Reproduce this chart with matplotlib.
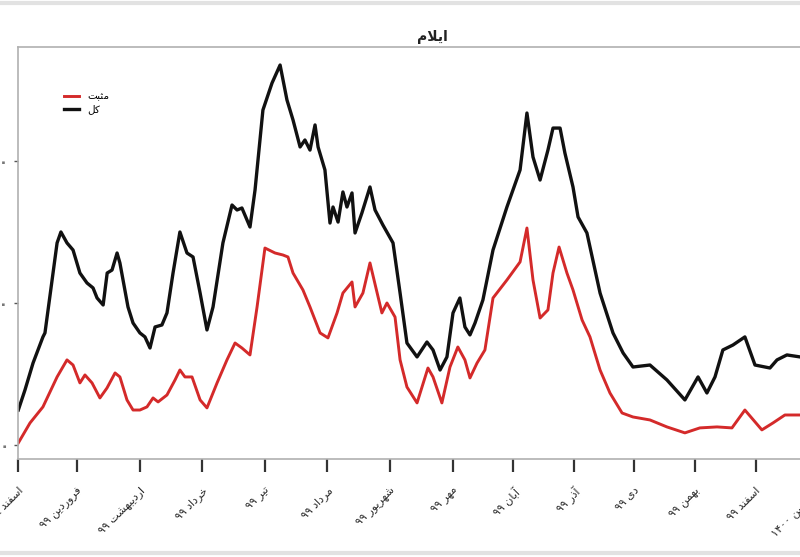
import matplotlib
matplotlib.use("Agg")
import matplotlib.pyplot as plt
from matplotlib.lines import Line2D

# ---------------- data (days from start of Esfand 98) ----------------
total_days = [0, 3.3, 7.3, 12.2, 13.2, 19.2, 21.1, 24.1, 27.1, 30.5, 34.0, 37.0, 39.0, 42.0,
              44.0, 46.4, 48.9, 50.3, 54.3, 56.8, 60.2, 62.7, 65.2, 67.7, 71.1, 73.6, 76.6,
              80.0, 83.5, 86.5, 90.0, 93.4, 96.4, 101.3, 105.8, 108.3, 110.7, 114.7, 117.2,
              121.1, 125.6, 129.6, 133.0, 136.0, 139.5, 141.9, 144.4, 146.9, 148.4, 151.8,
              154.3, 155.8, 158.3, 160.7, 162.7, 165.2, 166.7, 170.1, 174.1, 176.6, 180.5,
              185.5, 189.0, 192.4, 197.4, 202.3, 205.3, 208.8, 212.2, 215.2, 218.6, 221.1,
              223.6, 226.1, 230.0, 235.0, 241.9, 248.4, 251.8, 254.8, 258.3, 262.2, 264.7,
              268.2, 270.6, 274.6, 277.1, 281.5, 288.0, 294.4, 299.4, 304.3, 312.7, 321.1,
              330.0, 336.5, 340.9, 344.9, 348.8, 353.8, 359.7, 364.7, 372.1, 375.6, 380.5, 387.0]
total_vals = [24.6, 38.7, 57.7, 76.1, 78.9, 142.3, 150.0, 142.3, 137.3, 121.1, 114.1, 110.6,
              103.5, 98.6, 121.1, 123.2, 135.2, 128.2, 97.2, 85.9, 78.9, 76.1, 68.3, 83.1,
              84.5, 93.0, 121.1, 150.0, 135.2, 132.4, 107.0, 81.0, 97.2, 142.3, 169.0, 165.5,
              166.9, 153.5, 179.6, 235.9, 254.9, 267.6, 243.0, 228.9, 209.9, 214.8, 207.7,
              225.4, 209.9, 193.7, 156.3, 167.6, 157.0, 178.2, 167.6, 177.5, 149.3, 163.4,
              181.7, 165.5, 154.9, 142.3, 107.0, 71.8, 62.0, 72.5, 66.9, 52.8, 62.0, 93.0,
              103.5, 83.1, 77.5, 85.9, 102.1, 137.3, 167.6, 193.7, 233.8, 202.8, 186.6,
              207.7, 223.2, 223.2, 205.6, 181.7, 160.6, 149.3, 107.0, 78.9, 64.8, 54.9, 56.3,
              45.8, 31.7, 47.9, 36.6, 47.9, 66.9, 70.4, 76.1, 56.3, 54.2, 59.9, 63.4, 62.0]

pos_days = [0, 5.8, 12.2, 19.2, 24.1, 27.1, 30.5, 33.0, 36.5, 40.4, 43.9, 47.9, 50.3, 53.8,
            56.8, 60.2, 63.7, 66.7, 69.2, 73.6, 77.6, 80.0, 82.5, 86.0, 90.0, 93.4, 98.4,
            103.3, 107.3, 110.7, 114.7, 118.2, 122.1, 127.1, 131.0, 133.5, 136.0, 140.9,
            144.4, 149.4, 153.3, 157.8, 160.7, 165.2, 166.7, 170.6, 174.1, 180.0, 182.5,
            186.5, 189.0, 192.4, 197.4, 202.8, 205.3, 209.7, 213.7, 217.6, 221.1, 223.6,
            227.1, 231.0, 235.0, 241.9, 248.4, 251.8, 254.8, 258.3, 262.2, 264.7, 267.7,
            271.6, 274.6, 279.1, 283.0, 288.0, 292.9, 298.9, 304.3, 312.7, 321.1, 330.0,
            337.4, 345.9, 353.3, 359.7, 368.1, 373.6, 379.5, 387.0]
pos_vals = [1.4, 15.5, 26.8, 47.9, 59.9, 56.3, 43.7, 49.3, 43.7, 33.1, 40.1, 50.7, 47.9, 31.7,
            24.6, 24.6, 26.8, 33.1, 30.3, 35.2, 45.8, 52.8, 47.9, 47.9, 31.7, 26.1, 43.7,
            59.9, 71.8, 68.3, 63.4, 97.2, 138.7, 135.2, 133.8, 132.4, 121.1, 109.2, 97.2,
            78.9, 75.4, 93.0, 107.0, 114.8, 97.2, 107.0, 128.2, 93.0, 100.0, 90.1, 59.9,
            40.8, 29.6, 54.2, 47.9, 29.6, 54.9, 69.0, 59.9, 47.2, 57.7, 66.9, 103.5, 116.2,
            128.9, 152.8, 116.2, 89.4, 95.1, 121.1, 139.4, 121.1, 109.2, 88.0, 76.1, 52.8,
            36.6, 22.5, 19.7, 17.6, 12.7, 8.5, 12.0, 12.7, 12.0, 24.6, 10.6, 15.5, 21.1, 21.1]

tick_days = [0, 29, 60, 91, 122, 153, 184, 215, 245, 275, 305, 335, 365, 395]
tick_labels = ["اسفند ۹۸", "فروردین ۹۹", "اردیبهشت ۹۹", "خرداد ۹۹", "تیر ۹۹", "مرداد ۹۹",
               "شهریور ۹۹", "مهر ۹۹", "آبان ۹۹", "آذر ۹۹", "دی ۹۹", "بهمن ۹۹",
               "اسفند ۹۹", "فروردین ۱۴۰۰"]
y_ticks = [0, 100, 200]
y_labels = ["۰", "۱۰۰", "۲۰۰"]
title = "ایلام"
series_names = ["مثبت", "کل"]

# ---------------- minimal Persian shaping (visual order) ----------------
FORMS = {  # isolated, final, initial, medial
    'ا': ('\uFE8D', '\uFE8E', None, None), 'آ': ('\uFE81', '\uFE82', None, None),
    'ب': ('\uFE8F', '\uFE90', '\uFE91', '\uFE92'), 'ت': ('\uFE95', '\uFE96', '\uFE97', '\uFE98'),
    'ث': ('\uFE99', '\uFE9A', '\uFE9B', '\uFE9C'), 'خ': ('\uFEA5', '\uFEA6', '\uFEA7', '\uFEA8'),
    'د': ('\uFEA9', '\uFEAA', None, None), 'ذ': ('\uFEAB', '\uFEAC', None, None),
    'ر': ('\uFEAD', '\uFEAE', None, None), 'و': ('\uFEED', '\uFEEE', None, None),
    'س': ('\uFEB1', '\uFEB2', '\uFEB3', '\uFEB4'), 'ش': ('\uFEB5', '\uFEB6', '\uFEB7', '\uFEB8'),
    'ف': ('\uFED1', '\uFED2', '\uFED3', '\uFED4'), 'ل': ('\uFEDD', '\uFEDE', '\uFEDF', '\uFEE0'),
    'م': ('\uFEE1', '\uFEE2', '\uFEE3', '\uFEE4'), 'ن': ('\uFEE5', '\uFEE6', '\uFEE7', '\uFEE8'),
    'ه': ('\uFEE9', '\uFEEA', '\uFEEB', '\uFEEC'), 'ی': ('\uFBFC', '\uFBFD', '\uFBFE', '\uFBFF'),
    'ک': ('\uFB8E', '\uFB8F', '\uFB90', '\uFB91'),
}
LAM_ALEF = {'ا': ('\uFEFB', '\uFEFC'), 'آ': ('\uFEF5', '\uFEF6')}


def dual(c):
    return c in FORMS and FORMS[c][2] is not None


def shape_word(w):
    out = []
    i, n = 0, len(w)
    while i < n:
        c = w[i]
        prev_j = i > 0 and dual(w[i - 1])
        if c == 'ل' and i + 1 < n and w[i + 1] in LAM_ALEF:
            out.append(LAM_ALEF[w[i + 1]][1 if prev_j else 0])
            i += 2
            continue
        if c not in FORMS:
            out.append(c)
            i += 1
            continue
        f = FORMS[c]
        left = dual(c) and i + 1 < n and w[i + 1] in FORMS
        if prev_j and left:
            out.append(f[3])
        elif prev_j:
            out.append(f[1])
        elif left:
            out.append(f[2])
        else:
            out.append(f[0])
        i += 1
    return ''.join(reversed(out))


def vis(text):
    toks = [shape_word(t) if any(ch in FORMS for ch in t) else t for t in text.split(' ')]
    return ' '.join(reversed(toks))


plt.rcParams['font.family'] = ['DejaVu Sans']

W, H = 800, 557
fig = plt.figure(figsize=(W / 100, H / 100), dpi=100)
ax_l, ax_r, ax_t, ax_b = 18.3, 830, 47, 459
ax = fig.add_axes([ax_l / W, 1 - ax_b / H, (ax_r - ax_l) / W, (ax_b - ax_t) / H])

ax.plot(pos_days, pos_vals, color='#d42a2a', lw=2.1, label=vis(series_names[0]))
ax.plot(total_days, total_vals, color='#111111', lw=2.4, label=vis(series_names[1]))

ax.set_xlim(0, (ax_r - ax_l) / 2.02)
ax.set_ylim(-9.9, 280.3)

ax.set_xticks(tick_days)
ax.set_xticklabels([vis(t) for t in tick_labels], rotation=45, ha='right',
                   rotation_mode='anchor', fontsize=8, color='#2a2a2a')
ax.set_yticks(y_ticks)
ax.set_yticklabels(y_labels, fontsize=11, color='#777777', fontweight='bold')

ax.tick_params(axis='x', length=9, width=1.6, color='#333333', pad=10)
ax.tick_params(axis='y', length=3, width=1, color='#555555', pad=4)

for s in ['left', 'bottom', 'top']:
    ax.spines[s].set_color('#b0b0b0')
    ax.spines[s].set_linewidth(1.2)
ax.spines['right'].set_visible(False)

fig.text(432 / W, 1 - 37 / H, vis(title), ha='center', va='center', fontsize=10,
         fontweight='bold', color='#222222')

leg = ax.legend(loc='upper left', bbox_to_anchor=(55 / W, 1 - 82 / H),
                bbox_transform=fig.transFigure, frameon=False, fontsize=7.5,
                handlelength=1.4, handletextpad=0.8, labelspacing=0.3)

# light border lines of the screenshot
fig.add_artist(Line2D([0, 1], [1 - 3 / H, 1 - 3 / H], transform=fig.transFigure,
                      color='#e2e2e2', lw=3))
fig.add_artist(Line2D([0, 1], [4 / H, 4 / H], transform=fig.transFigure,
                      color='#e2e2e2', lw=3))

fig.savefig('out.png', dpi=100)
